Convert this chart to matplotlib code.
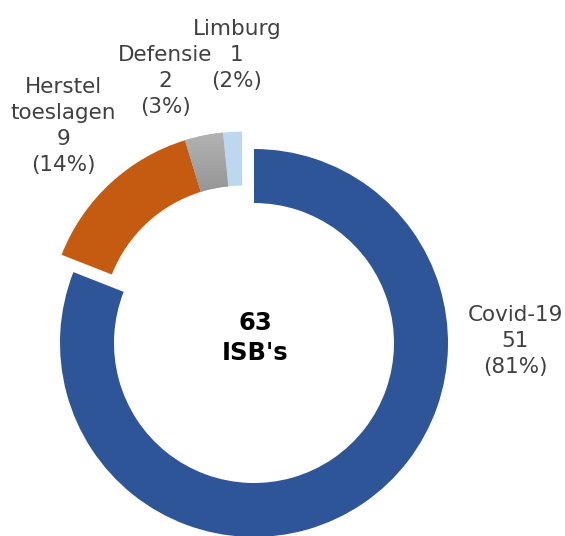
import matplotlib
matplotlib.use("Agg")
import matplotlib.pyplot as plt
import numpy as np

categories = ["Covid-19", "Herstel\ntoeslagen", "Defensie", "Limburg"]
values = [51, 9, 2, 1]
colors = ["#2E5597", "#C55A11", "#A5A5A5", "#BDD7EE"]
center_label = ["63", "ISB's"]

W, H = 565, 536
fig = plt.figure(figsize=(W / 100, H / 100), dpi=100)
ax = fig.add_axes([0, 0, 1, 1])

cx, cy = 254, H - 343
r_out, ring = 194, 54

wedges, _ = ax.pie(values, radius=r_out, center=(cx, cy), startangle=90,
                   counterclock=False, colors=colors,
                   wedgeprops=dict(width=ring, linewidth=0), frame=True)

# explode the small slices together along their common bisector
total = sum(values)
a_end = 90 - 360 * values[0] / total + 360  # end angle of Covid slice
mid = np.deg2rad((a_end + 90) / 2)
off = 21
for w in wedges[1:]:
    w.set_center((cx + off * np.cos(mid), cy + off * np.sin(mid)))

# subtle vertical gradient on the grey slice
gw = wedges[2]
bb = gw.get_path().get_extents(gw.get_patch_transform())
grad = np.linspace(0, 1, 64).reshape(-1, 1)
cmap = matplotlib.colors.LinearSegmentedColormap.from_list("g", ["#969696", "#B3B3B3"])
im = ax.imshow(grad, cmap=cmap, extent=(bb.x0, bb.x1, bb.y0, bb.y1),
               origin="lower", aspect="auto", zorder=gw.get_zorder() + 0.1)
im.set_clip_path(gw)

ax.set_xlim(0, W)
ax.set_ylim(0, H)
ax.set_aspect("equal")
ax.axis("off")

txt = "#404040"
fs = 15.5
line_gap = 26
label_pos = [(515, 339), (63, 124), (165, 79), (237, 53)]  # centre of block, px from top
for c, v, (x, yc) in zip(categories, values, label_pos):
    lines = c.split("\n") + [f"{v}", f"({round(100 * v / total)}%)"]
    n = len(lines)
    for i, line in enumerate(lines):
        ycap = yc + (i - (n - 1) / 2) * line_gap
        ax.text(x, H - (ycap + 8), line, ha="center", va="baseline", fontsize=fs,
                color=txt, family="DejaVu Sans")

for i, line in enumerate(center_label):
    ax.text(255, H - (330 + i * 30), line, ha="center", va="baseline", fontsize=17.5,
            fontweight="bold", color="black")

fig.savefig("out.png", dpi=100)
